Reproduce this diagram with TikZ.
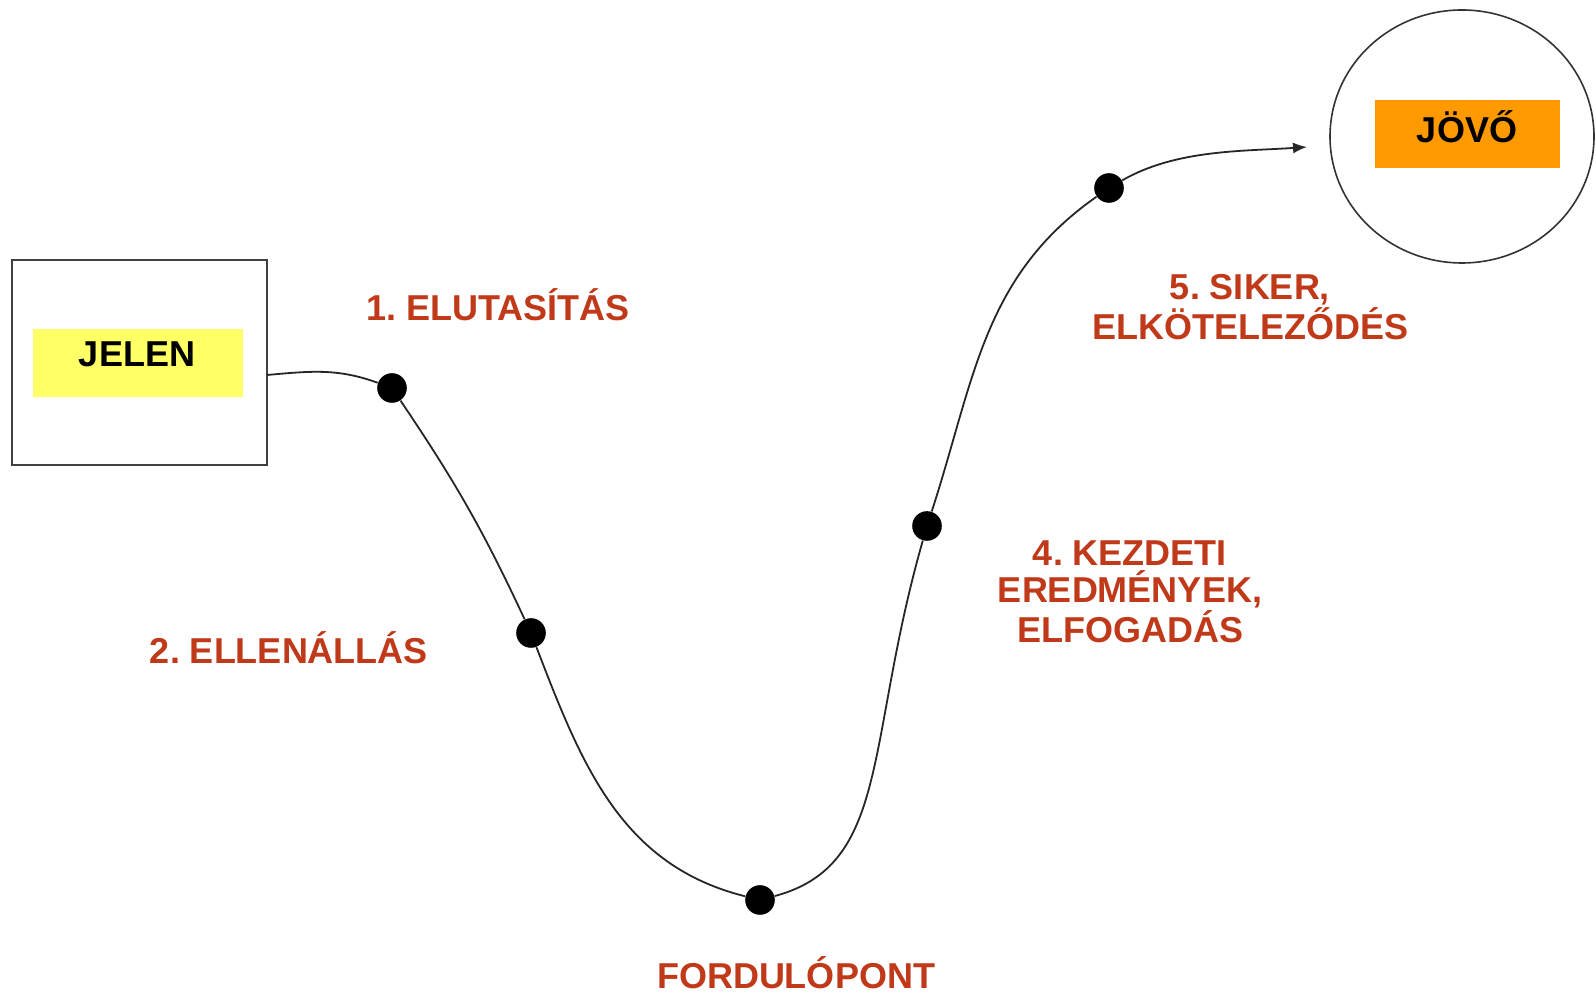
\documentclass[tikz,border=0pt]{standalone}
\usepackage{fontspec}
\setmainfont{Liberation Sans}
\usetikzlibrary{arrows.meta,shapes.geometric}
\definecolor{lblred}{RGB}{192,58,26}
\definecolor{jelenyellow}{RGB}{255,255,102}
\definecolor{jovoorange}{RGB}{255,153,0}
\frenchspacing
\begin{document}
\begin{tikzpicture}[x=0.5pt,y=0.5pt,
  lbl/.style={text=lblred, font=\fontsize{18}{18.5}\selectfont\bfseries\frenchspacing, align=center, inner sep=0pt},
  onelbl/.style={lbl, text height=12.9pt, text depth=0pt},
  boxtext/.style={text=black, font=\fontsize{18}{18.5}\selectfont\bfseries, inner sep=0pt, text height=12.9pt, text depth=0pt},
  dot/.style={circle, fill=black, inner sep=0pt, minimum size=14.8pt},
  curve/.style={line width=0.9pt, black!85},
  frame/.style={draw=black!75, line width=1pt, fill=white, inner sep=0pt},
  colorbox/.style={inner sep=0pt, draw=none}]
\useasboundingbox (0,0) rectangle (1596,994);

% JELEN
\node[frame, minimum width=127.5pt, minimum height=102.5pt] (box) at (139.5,631.5) {};
\node[colorbox, fill=jelenyellow, minimum width=105pt, minimum height=34pt] (ybox) at (138,631) {};
\node[boxtext] (jelen) at (137,640) {JELEN};

% JOVO
\node[ellipse, draw=black!80, line width=0.8pt, inner sep=0pt, minimum width=132pt, minimum height=126.5pt] (circ) at (1462,857.5) {};
\node[colorbox, fill=jovoorange, minimum width=92.5pt, minimum height=34pt] (obox) at (1467.5,860) {};
\node[boxtext] (jovo) at (1467,864) {JÖVŐ};

% curve points
\coordinate (s) at (267,619);
\node[dot] (d1) at (392,606) {};
\node[dot] (d2) at (531,361) {};
\node[dot] (d3) at (760,94) {};
\node[dot] (d4) at (927,468) {};
\node[dot] (d5) at (1109,806) {};
\coordinate (e) at (1307,847);

\draw[curve] (s) to[out=5,in=160] (d1);
\draw[curve] (d1) to[out=-56,in=115] (d2);
\draw[curve] (d2) to[out=-69,in=166] (d3);
\draw[curve] (d3) to[out=15,in=-106,out looseness=0.8,in looseness=1.4] (d4);
\draw[curve] (d4) to[out=72,in=215] (d5);
\draw[curve, -{Latex[length=7pt,width=5.5pt]}] (d5) to[out=30,in=184,looseness=0.85] (e);

% labels
\node[onelbl] (l1) at (498,686) {1. ELUTASÍTÁS};
\node[onelbl] (l2) at (289,343) {2. ELLENÁLLÁS};
\node[onelbl] (l3) at (796,18) {FORDULÓPONT};
\node[lbl] (l4) at (1130,402) {4. KEZDETI\\EREDMÉNYEK,\\ELFOGADÁS};
\node[lbl] (l5) at (1250,687) {5. SIKER,\\ELKÖTELEZŐDÉS};
\end{tikzpicture}
\end{document}
